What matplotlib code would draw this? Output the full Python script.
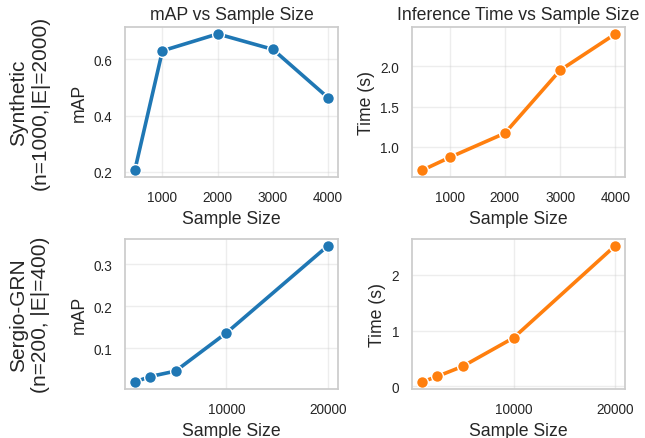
import matplotlib
matplotlib.use("Agg")
import matplotlib.pyplot as plt
import seaborn as sns

sns.set_theme(style="whitegrid")
plt.rcParams['font.family'] = ['Liberation Sans', 'DejaVu Sans']

syn_sizes = [500, 1000, 2000, 3000, 4000]
syn_map = [0.205, 0.630, 0.690, 0.635, 0.463]
syn_time = [0.71, 0.87, 1.17, 1.95, 2.40]

ser_sizes = [1000, 2500, 5000, 10000, 20000]
ser_map = [0.020, 0.033, 0.046, 0.137, 0.345]
ser_time = [0.08, 0.18, 0.36, 0.87, 2.52]

row_labels = ["Synthetic\n(n=1000,|E|=2000)", "Sergio-GRN\n(n=200, |E|=400)"]

blue = "#1f77b4"
orange = "#ff7f0e"

fig, axes = plt.subplots(2, 2, figsize=(6.45, 4.39), dpi=100)
fig.subplots_adjust(left=0.194, right=0.969, top=0.936, bottom=0.112, wspace=0.35, hspace=0.41)

data = [(syn_sizes, syn_map, syn_time), (ser_sizes, ser_map, ser_time)]
for r, (xs, m, t) in enumerate(data):
    ax1, ax2 = axes[r]
    ax1.plot(xs, m, marker="o", color=blue, lw=2.6, ms=8.5, mec="white", mew=1)
    ax2.plot(xs, t, marker="o", color=orange, lw=2.6, ms=8.5, mec="white", mew=1)
    ax1.set_ylabel("mAP", fontsize=12.7)
    ax2.set_ylabel("Time (s)", fontsize=12.7)
    for ax in (ax1, ax2):
        ax.set_xlabel("Sample Size", fontsize=12.7)
        ax.tick_params(labelsize=9.8)
        ax.grid(True, alpha=0.35)
    if r == 0:
        ax1.set_title("mAP vs Sample Size", fontsize=12.7)
        ax2.set_title("Inference Time vs Sample Size", fontsize=12.7)

axes[0][0].set_xticks([1000, 2000, 3000, 4000])
axes[0][1].set_xticks([1000, 2000, 3000, 4000])
axes[0][0].set_yticks([0.2, 0.4, 0.6])
axes[0][1].set_yticks([1.0, 1.5, 2.0])
axes[1][0].set_xticks([10000, 20000])
axes[1][1].set_xticks([10000, 20000])
axes[1][0].set_yticks([0.1, 0.2, 0.3])
axes[1][1].set_yticks([0, 1, 2])

for r in range(2):
    pos = axes[r][0].get_position()
    fig.text(0.046, (pos.y0 + pos.y1) / 2, row_labels[r], rotation=90, ha="center",
             va="center", fontsize=15, multialignment="center")

fig.savefig("out.png", dpi=100)
